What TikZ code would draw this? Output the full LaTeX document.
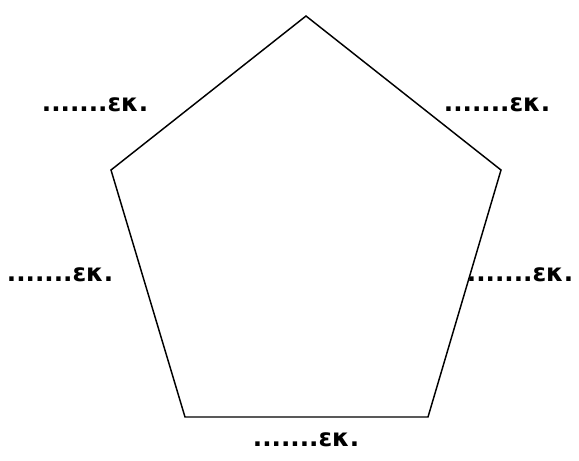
\documentclass[tikz,border=0pt]{standalone}
\usepackage{fontspec}
\setmainfont{DejaVu Sans}
\tikzset{lbl/.style={font=\fontsize{18.5}{22}\selectfont\bfseries, inner sep=0pt}}
\begin{document}
\begin{tikzpicture}[x=0.75pt,y=-0.75pt]
        \useasboundingbox (0,0) rectangle (579,461);
        \coordinate (P1) at (306,16);
        \coordinate (P2) at (501,170);
        \coordinate (P3) at (428,417);
        \coordinate (P4) at (185,417);
        \coordinate (P5) at (111,170);
        \draw[line width=1.1pt] (P1) -- (P2) -- (P3) -- (P4) -- (P5) -- cycle;

        \node[lbl] (L1) at (95,105) {.......εκ.};
        \node[lbl] (L2) at (497,105) {.......εκ.};
        \node[lbl] (L3) at (60,275) {.......εκ.};
        \node[lbl] (L4) at (520,275) {.......εκ.};
        \node[lbl] (L5) at (306,440) {.......εκ.};
    \end{tikzpicture}
\end{document}
